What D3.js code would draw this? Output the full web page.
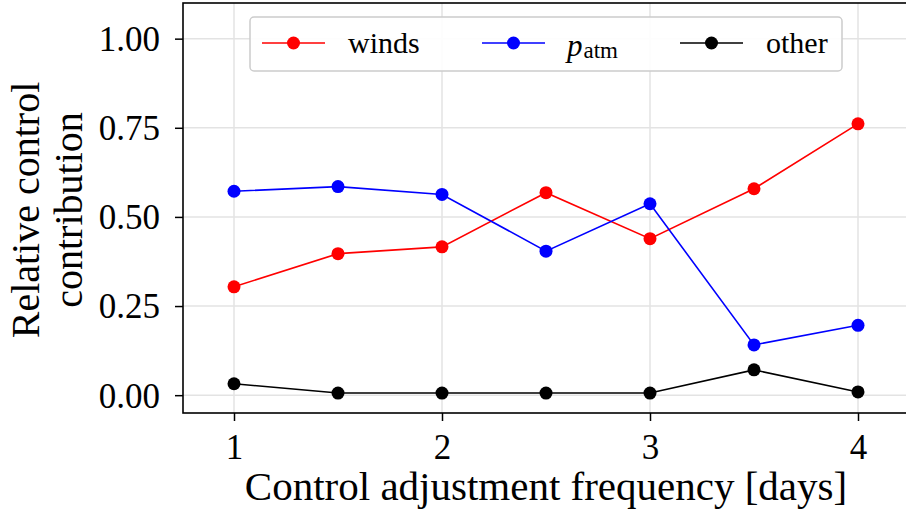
<!DOCTYPE html>
<html>
<head>
<meta charset="utf-8">
<script src="https://cdn.jsdelivr.net/npm/d3@7"></script>
<style>
  body { margin: 0; background: #fff; }
  svg { display: block; font-family: "Liberation Serif", "DejaVu Serif", serif; }
</style>
</head>
<body>
<svg id="chart" width="906" height="512"></svg>
<script>
// data
const freqDays   = [1, 1.5, 2, 2.5, 3, 3.5, 4];
const windsVals  = [0.304, 0.397, 0.416, 0.568, 0.439, 0.579, 0.761];
const patmVals   = [0.572, 0.585, 0.563, 0.404, 0.537, 0.141, 0.196];
const otherVals  = [0.032, 0.006, 0.006, 0.006, 0.006, 0.071, 0.009];
const xTicks     = [1, 2, 3, 4];
const yTicks     = [0, 0.25, 0.5, 0.75, 1.0];

const series = [
  { name: 'winds', values: windsVals, color: '#ff0000' },
  { name: 'patm',  values: patmVals,  color: '#0000ff' },
  { name: 'other', values: otherVals, color: '#000000' }
];

const svg = d3.select('#chart');
const plot = { left: 183, right: 910, top: 3, bottom: 413 };

const x = d3.scaleLinear().domain([0.75, 4.25]).range([182, 910]);
const y = d3.scaleLinear().domain([-0.05, 1.1]).range([plot.bottom, plot.top]);

// grid
const grid = svg.append('g');
grid.selectAll('line.gx').data(xTicks).join('line')
  .attr('x1', d => x(d)).attr('x2', d => x(d))
  .attr('y1', plot.top).attr('y2', plot.bottom)
  .attr('stroke', '#e3e3e3').attr('stroke-width', 1.5);
grid.selectAll('line.gy').data(yTicks).join('line')
  .attr('x1', plot.left).attr('x2', plot.right)
  .attr('y1', d => y(d)).attr('y2', d => y(d))
  .attr('stroke', '#e3e3e3').attr('stroke-width', 1.5);

// lines + markers
const line = d3.line().x((d, i) => x(freqDays[i])).y(d => y(d));
series.forEach(s => {
  svg.append('path')
    .datum(s.values)
    .attr('d', line)
    .attr('fill', 'none')
    .attr('stroke', s.color)
    .attr('stroke-width', 1.6);
  svg.append('g').selectAll('circle').data(s.values).join('circle')
    .attr('cx', (d, i) => x(freqDays[i]))
    .attr('cy', d => y(d))
    .attr('r', 6.5)
    .attr('fill', s.color);
});

// axes
const xAxis = svg.append('g')
  .attr('transform', `translate(0,${plot.bottom})`)
  .call(d3.axisBottom(x).tickValues(xTicks).tickFormat(d3.format('d')).tickSize(8).tickPadding(6));
const yAxis = svg.append('g')
  .attr('transform', `translate(${plot.left},0)`)
  .call(d3.axisLeft(y).tickValues(yTicks).tickFormat(d3.format('.2f')).tickSize(8).tickPadding(15));
[xAxis, yAxis].forEach(a => {
  a.select('.domain').remove();
  a.selectAll('.tick line').attr('stroke', '#000').attr('stroke-width', 1.5);
  a.selectAll('.tick text')
    .attr('fill', '#000')
    .style('font-family', '"Liberation Serif", serif')
    .style('font-size', '35px');
});
xAxis.selectAll('.tick text').attr('dy', '0.92em');
yAxis.selectAll('.tick text').attr('dy', '0.34em');

// frame
svg.append('rect')
  .attr('x', plot.left).attr('y', plot.top)
  .attr('width', plot.right - plot.left).attr('height', plot.bottom - plot.top)
  .attr('fill', 'none').attr('stroke', '#000').attr('stroke-width', 1.6);

// axis labels
svg.append('text')
  .attr('x', 546).attr('y', 500)
  .attr('text-anchor', 'middle')
  .style('font-size', '41px')
  .text('Control adjustment frequency [days]');

const yLab = svg.append('text')
  .attr('transform', 'translate(39,210) rotate(-90)')
  .attr('text-anchor', 'middle')
  .style('font-size', '40px');
yLab.append('tspan').attr('x', 0).attr('y', 0).text('Relative control');
yLab.append('tspan').attr('x', 0).attr('y', 43).text('contribution');

// legend
const legend = svg.append('g');
legend.append('rect')
  .attr('x', 250).attr('y', 17).attr('width', 592).attr('height', 54)
  .attr('rx', 4)
  .attr('fill', '#fff').attr('fill-opacity', 0.9)
  .attr('stroke', '#cccccc').attr('stroke-width', 1.5);

const legendX = [262, 482, 680];
series.forEach((s, i) => {
  const lx = legendX[i];
  legend.append('line')
    .attr('x1', lx).attr('x2', lx + 63)
    .attr('y1', 43).attr('y2', 43)
    .attr('stroke', s.color).attr('stroke-width', 1.6);
  legend.append('circle')
    .attr('cx', lx + 31.5).attr('cy', 43).attr('r', 6.5)
    .attr('fill', s.color);
});
legend.append('text')
  .attr('x', 348).attr('y', 53)
  .style('font-size', '30px').text('winds');
const pt = legend.append('text').attr('x', 567).attr('y', 56).style('font-size', '31px');
pt.append('tspan').style('font-style', 'italic').text('p');
pt.append('tspan').attr('dx', 1).attr('dy', 2).style('font-size', '23px').text('atm');
legend.append('text')
  .attr('x', 766).attr('y', 53)
  .style('font-size', '30px').text('other');
</script>
</body>
</html>
